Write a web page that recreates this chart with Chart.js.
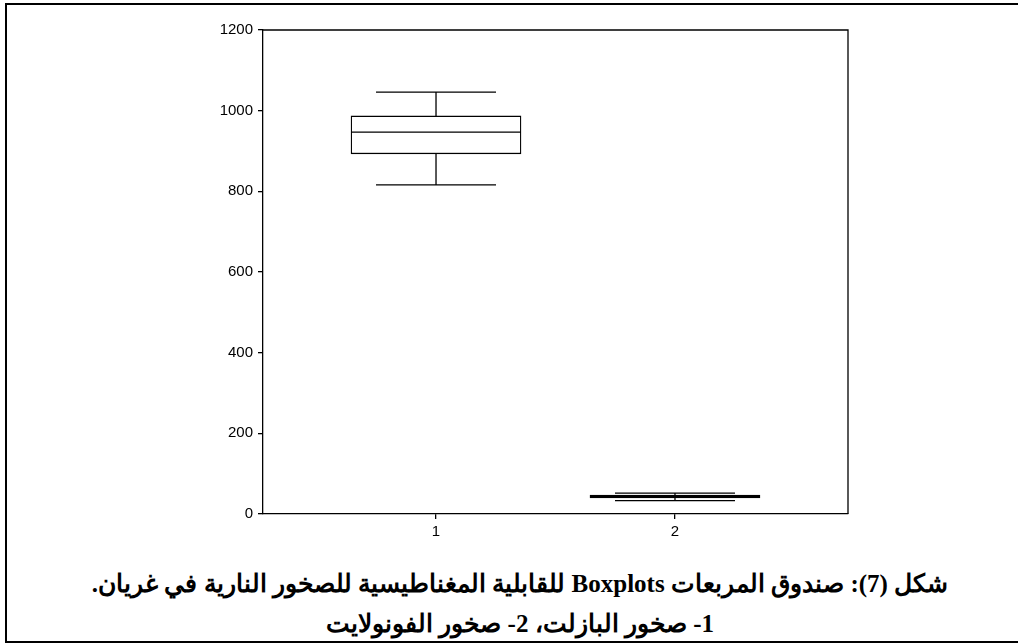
<!DOCTYPE html>
<html lang="ar">
<head>
<meta charset="utf-8">
<script src="https://cdn.jsdelivr.net/npm/chart.js@4.4.1/dist/chart.umd.min.js"></script>
<style>
  html, body { margin: 0; padding: 0; background: #fff; overflow: hidden; }
  #frame { position: absolute; left: 5px; top: 3px; width: 1040px; height: 640px;
           border: 2px solid #000; box-sizing: border-box; }
  #wrap { position: absolute; left: 0; top: 0; width: 1018px; height: 545px; }
  #caption { position: absolute; left: 0; width: 1040px; top: 564px; text-align: center;
             font-family: "Liberation Serif", "Times New Roman", serif; font-weight: bold;
             font-size: 25px; line-height: 40px; color: #000; }
</style>
</head>
<body>
<div id="frame"></div>
<div id="wrap"><canvas id="chart"></canvas></div>
<div id="caption" dir="rtl">
  <div>شكل (7): صندوق المربعات Boxplots للقابلية المغناطيسية للصخور النارية في غريان.</div>
  <div>1- صخور البازلت، 2- صخور الفونولايت</div>
</div>
<script>
// Rock groups on the x axis
const categories = [1, 2];
// Five-number summaries of magnetic susceptibility for each group
const whiskerLow  = [816, 33];
const quartile1   = [893, 40];
const medians     = [947, 43];
const quartile3   = [987, 47];
const whiskerHigh = [1046, 52];
// Value axis ticks
const yTicks = [0, 200, 400, 600, 800, 1000, 1200];

const BOX_HALF = 85;   // half of the box width in px
const CAP_HALF = 60;   // half of the whisker cap width in px
const LINE = 1.3;

// Median, whiskers and caps, positioned through the chart's scales
const whiskerPlugin = {
  id: 'whiskers',
  afterDatasetsDraw(chart) {
    const { ctx, scales: { x, y } } = chart;
    ctx.save();
    ctx.strokeStyle = '#000';
    ctx.lineWidth = LINE;
    categories.forEach((c, i) => {
      const px = x.getPixelForValue(c);
      const yMin = y.getPixelForValue(whiskerLow[i]);
      const yQ1 = y.getPixelForValue(quartile1[i]);
      const yMed = y.getPixelForValue(medians[i]);
      const yQ3 = y.getPixelForValue(quartile3[i]);
      const yMax = y.getPixelForValue(whiskerHigh[i]);
      ctx.beginPath();
      // median
      ctx.moveTo(px - BOX_HALF, yMed); ctx.lineTo(px + BOX_HALF, yMed);
      // whiskers
      ctx.moveTo(px, yQ3); ctx.lineTo(px, yMax);
      ctx.moveTo(px, yQ1); ctx.lineTo(px, yMin);
      // caps
      ctx.moveTo(px - CAP_HALF, yMax); ctx.lineTo(px + CAP_HALF, yMax);
      ctx.moveTo(px - CAP_HALF, yMin); ctx.lineTo(px + CAP_HALF, yMin);
      ctx.stroke();
    });
    ctx.restore();
  }
};

// Top and right edges of the plot frame
const framePlugin = {
  id: 'plotFrame',
  afterDraw(chart) {
    const { ctx, chartArea: a } = chart;
    ctx.save();
    ctx.strokeStyle = '#000';
    ctx.lineWidth = LINE;
    ctx.beginPath();
    ctx.moveTo(a.left, a.top); ctx.lineTo(a.right, a.top); ctx.lineTo(a.right, a.bottom);
    ctx.stroke();
    ctx.restore();
  }
};

const tickFont = { family: '"Liberation Sans", Arial, sans-serif', size: 15 };

new Chart(document.getElementById('chart'), {
  type: 'bar',
  data: {
    datasets: [{
      data: categories.map((c, i) => ({ x: c, y: [quartile1[i], quartile3[i]] })),
      backgroundColor: '#fff',
      borderColor: '#000',
      borderWidth: LINE,
      borderSkipped: false,
      barThickness: BOX_HALF * 2
    }]
  },
  options: {
    responsive: true,
    maintainAspectRatio: false,
    animation: false,
    layout: { padding: { left: 0, top: 30, right: 170, bottom: 0 } },
    plugins: { legend: { display: false }, tooltip: { enabled: false }, title: { display: false } },
    scales: {
      x: {
        type: 'linear',
        min: 0.276,
        max: 2.724,
        offset: false,
        afterBuildTicks(scale) { scale.ticks = categories.map(v => ({ value: v })); },
        afterFit(scale) { scale.height = 31; },
        ticks: { color: '#000', font: tickFont, padding: 4, callback: v => String(v) },
        grid: { offset: false, drawOnChartArea: false, color: '#000', lineWidth: LINE, tickLength: 5 },
        border: { color: '#000', width: LINE }
      },
      y: {
        min: 0,
        max: 1200,
        afterBuildTicks(scale) { scale.ticks = yTicks.map(v => ({ value: v })); },
        afterFit(scale) { scale.width = 263; },
        ticks: { color: '#000', font: tickFont, padding: 5, callback: v => String(v) },
        grid: { drawOnChartArea: false, color: '#000', lineWidth: LINE, tickLength: 5 },
        border: { color: '#000', width: LINE }
      }
    }
  },
  plugins: [whiskerPlugin, framePlugin]
});
</script>
</body>
</html>
